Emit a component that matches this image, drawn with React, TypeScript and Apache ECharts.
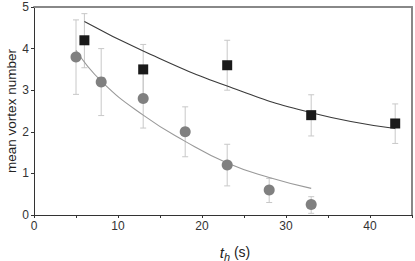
import React, { useEffect, useRef } from "react";
import * as echarts from "echarts";

const squareX = [6, 13, 23, 33, 43];
const squareY = [4.2, 3.5, 3.6, 2.4, 2.2];
const squareLow = [3.54, 2.9, 3.0, 1.9, 1.72];
const squareHigh = [4.84, 4.1, 4.2, 2.89, 2.67];

const circleX = [5, 8, 13, 18, 23, 28, 33];
const circleY = [3.8, 3.2, 2.8, 2.0, 1.2, 0.6, 0.25];
const circleLow = [2.9, 2.39, 2.09, 1.4, 0.7, 0.3, 0.04];
const circleHigh = [4.69, 4.0, 3.5, 2.6, 1.7, 0.88, 0.44];

const fitSquareX = [6, 13, 23, 33, 43];
const fitSquareY = [4.65, 3.94, 3.1, 2.46, 2.08];

const fitCircleX = [5, 8, 13, 18, 23, 28, 33];
const fitCircleY = [3.96, 3.22, 2.4, 1.77, 1.25, 0.9, 0.64];

const xTicks = [0, 10, 20, 30, 40];

const zip = (a: number[], b: number[]) => a.map((v, i) => [v, b[i]]);

export default function App() {
  const ref = useRef<HTMLDivElement>(null);
  useEffect(() => {
    if (!ref.current) return;
    const chart = echarts.init(ref.current, undefined, { renderer: "svg" });
    const errItem = (params: any, api: any) => {
      const x = api.value(0);
      const lo = api.coord([x, api.value(1)]);
      const hi = api.coord([x, api.value(2)]);
      const cap = 3;
      const style = { stroke: "#c8c8c8", lineWidth: 1 };
      return {
        type: "group",
        children: [
          { type: "line", shape: { x1: lo[0], y1: lo[1], x2: hi[0], y2: hi[1] }, style },
          { type: "line", shape: { x1: lo[0] - cap, y1: lo[1], x2: lo[0] + cap, y2: lo[1] }, style },
          { type: "line", shape: { x1: hi[0] - cap, y1: hi[1], x2: hi[0] + cap, y2: hi[1] }, style },
        ],
      };
    };
    const font = "Liberation Sans, Arial, sans-serif";
    chart.setOption({
      animation: false,
      grid: { left: 34, right: 3, top: 7, bottom: 46, outerBoundsMode: "none", containLabel: false },
      xAxis: [
        {
          type: "value",
          min: 0,
          max: 45,
          interval: 5,
          splitLine: { show: false },
          axisLine: { onZero: false, lineStyle: { color: "#333", width: 1 } },
          axisTick: { inside: false, length: 3, lineStyle: { color: "#333" } },
          axisLabel: {
            color: "#333",
            fontSize: 12,
            fontFamily: font,
            margin: 5,
            formatter: (v: number) => (xTicks.includes(v) ? String(v) : ""),
          },
          name: "{i|t}{s|h}{n| (s)}",
          nameLocation: "middle",
          nameGap: 27,
          nameMoveOverlap: false,
          nameTextStyle: {
            fontFamily: font,
            padding: [0, 0, 0, 24],
            rich: {
              i: { fontSize: 15, fontStyle: "italic", color: "#222", fontFamily: font },
              s: { fontSize: 11, fontStyle: "italic", color: "#222", fontFamily: font, padding: [9, 0, 0, 0] },
              n: { fontSize: 14, color: "#222", fontFamily: font },
            },
          },
        },
        {
          type: "value",
          position: "top",
          min: 0,
          max: 45,
          axisLine: { show: true, onZero: false, lineStyle: { color: "#888", width: 2 } },
          axisTick: { show: false },
          axisLabel: { show: false },
          splitLine: { show: false },
        },
      ],
      yAxis: [
        {
          type: "value",
          min: 0,
          max: 5,
          interval: 1,
          splitLine: { show: false },
          axisLine: { show: true, onZero: false, lineStyle: { color: "#333", width: 1 } },
          axisTick: { show: true, inside: false, length: 3, lineStyle: { color: "#333" } },
          axisLabel: { color: "#333", fontSize: 12, fontFamily: font, margin: 5 },
          name: "mean vortex number",
          nameLocation: "middle",
          nameGap: 16,
          nameMoveOverlap: false,
          nameTextStyle: { fontSize: 13.5, color: "#222", fontFamily: font },
        },
        {
          type: "value",
          position: "right",
          min: 0,
          max: 5,
          axisLine: { show: true, onZero: false, lineStyle: { color: "#888", width: 2 } },
          axisTick: { show: false },
          axisLabel: { show: false },
          splitLine: { show: false },
        },
      ],
      series: [
        {
          type: "custom",
          renderItem: errItem,
          data: squareX.map((x, i) => [x, squareLow[i], squareHigh[i]]),
          z: 1,
        },
        {
          type: "custom",
          renderItem: errItem,
          data: circleX.map((x, i) => [x, circleLow[i], circleHigh[i]]),
          z: 1,
        },
        {
          type: "line",
          data: zip(fitSquareX, fitSquareY),
          smooth: true,
          showSymbol: false,
          lineStyle: { color: "#3a3a3a", width: 1.1 },
          z: 2,
        },
        {
          type: "line",
          data: zip(fitCircleX, fitCircleY),
          smooth: true,
          showSymbol: false,
          lineStyle: { color: "#999", width: 1.1 },
          z: 2,
        },
        {
          type: "scatter",
          data: zip(circleX, circleY),
          symbol: "circle",
          symbolSize: 11,
          itemStyle: { color: "#808080", opacity: 1 },
          z: 3,
        },
        {
          type: "scatter",
          data: zip(squareX, squareY),
          symbol: "rect",
          symbolSize: 10,
          itemStyle: { color: "#1a1a1a", opacity: 1 },
          z: 4,
        },
      ],
    });
    return () => chart.dispose();
  }, []);
  return <div ref={ref} style={{ width: 415, height: 261, position: "absolute", left: 0, top: 0 }} />;
}
